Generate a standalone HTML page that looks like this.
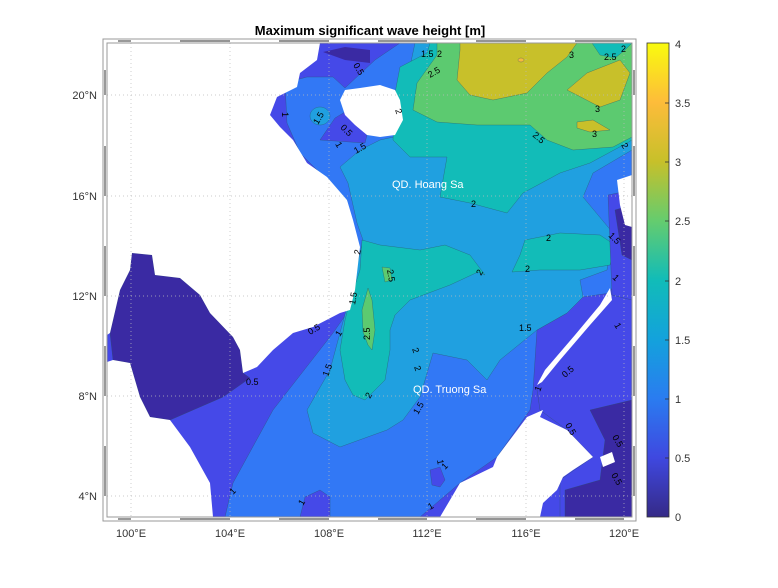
<!DOCTYPE html>
<html><head><meta charset="utf-8"><style>
body{margin:0;background:#fff;width:778px;height:583px;overflow:hidden;font-family:"Liberation Sans",sans-serif}
</style></head><body>
<svg width="778" height="583" viewBox="0 0 778 583" xmlns="http://www.w3.org/2000/svg" font-family="Liberation Sans, sans-serif">
<defs>
<linearGradient id="par" x1="0" y1="1" x2="0" y2="0">
<stop offset="0" stop-color="#352a87"/><stop offset="0.125" stop-color="#3f48e0"/><stop offset="0.25" stop-color="#2a7cf0"/><stop offset="0.375" stop-color="#13a2dc"/><stop offset="0.5" stop-color="#11bcb8"/><stop offset="0.625" stop-color="#65cc6e"/><stop offset="0.75" stop-color="#c7c02a"/><stop offset="0.875" stop-color="#fdbc3a"/><stop offset="1" stop-color="#f9fb0e"/>
</linearGradient>
<clipPath id="cp"><rect x="107" y="43" width="525" height="474"/></clipPath>
</defs>
<text x="370" y="35" text-anchor="middle" font-size="13" font-weight="bold">Maximum significant wave height [m]</text>
<g clip-path="url(#cp)" stroke="#2a5060" stroke-width="0.5" stroke-opacity="0.6">
<rect x="107" y="43" width="525" height="474" fill="#4549e8" stroke="none"/>
<polygon fill="#3278f5" points="285,83 307,77 333,77 345,88 375,60 400,43 632,43 632,300 610,293 583,297 567,313 537,330 533,390 530,410 497,457 460,483 420,517 225,517 233,483 273,410 333,333 347,313 347,200 320,173 300,153 287,123"/>
<polygon fill="#20a0e0" points="340,167 360,150 380,140 403,135 410,110 405,90 415,43 632,43 632,150 593,173 583,197 613,233 607,270 580,280 583,297 567,313 537,330 500,360 487,380 467,360 433,353 420,397 403,420 387,430 340,447 313,433 307,410 330,370 348,303 363,240 357,223 348,183"/>
<polygon fill="#12bcb8" points="430,43 427,53 400,67 395,93 393,140 410,157 447,157 440,197 470,203 507,213 523,193 560,173 590,163 627,143 632,140 632,43"/>
<polygon fill="#12bcb8" points="525,240 560,233 600,235 615,245 610,265 580,270 540,270 512,272 520,255"/>
<polygon fill="#12bcb8" points="362,240 380,245 420,250 445,245 470,255 485,275 478,272 450,285 410,300 395,315 390,330 390,350 385,380 365,400 353,395 345,380 340,350 345,320 350,300 360,270"/>
<polygon fill="#5cca70" points="382,267 390,268 392,280 385,282"/>
<polygon fill="#5cca70" points="368,288 372,300 375,330 372,350 368,345 363,332 362,310"/>
<polygon fill="#5cca70" points="437,43 437,55 417,83 413,110 437,122 477,125 530,125 547,140 573,150 613,147 632,137 632,43"/>
<polygon fill="#12bcb8" points="592,43 600,55 615,58 625,50 632,43"/>
<polygon fill="#c8c02a" points="460,43 460,50 457,80 470,95 493,100 527,93 547,73 567,57 577,43"/>
<polygon fill="#c8c02a" points="567,90 587,73 620,60 630,73 620,100 600,107 573,93"/>
<polygon fill="#c8c02a" points="577,122 593,120 610,130 590,132 577,128"/>
<ellipse cx="521" cy="60" rx="3" ry="2" fill="#f6ba3c"/>
<polygon fill="#4549e8" points="320,140 335,118 345,112 367,135 365,143"/>
<polygon fill="#3a2aa3" stroke="none" points="323,52 345,47 370,50 370,63 345,60"/>
<ellipse cx="320" cy="116" rx="10" ry="9" fill="#20a0e0"/>
<polygon fill="#3a2aa3" points="132,253 152,255 155,275 180,278 200,295 210,313 233,337 240,350 243,373 250,378 223,397 170,420 150,417 140,397 130,363 113,360 110,333 120,290 130,270"/>
<polygon fill="#4549e8" points="540,410 537,390 545,372 575,337 600,307 612,288 632,283 632,517 560,517 560,480 593,457 567,430"/>
<polygon fill="#4549e8" points="608,195 632,190 632,300 612,295"/>
<polygon fill="#3a2aa3" points="590,410 632,400 632,517 565,517 565,490 600,480 605,440"/>
<polygon fill="#3a2aa3" points="615,210 632,205 632,260 622,255"/>
<polygon fill="#4549e8" points="300,517 305,497 320,490 330,497 330,517"/>
<polygon fill="#4549e8" points="430,470 440,467 445,480 440,487 432,485"/>
<g fill="#fff" stroke="none">
<polygon points="107,43 320,43 317,60 300,73 297,87 277,97 270,115 280,127 293,140 307,163 327,177 347,200 353,220 360,247 355,290 350,310 340,313 313,327 293,333 273,350 257,367 243,373 240,350 233,337 210,313 200,295 180,278 155,275 152,255 132,253 130,270 120,290 110,333 107,335"/>
<polygon points="107,362 113,360 130,363 140,397 150,417 170,420 190,447 210,483 213,517 107,517"/>
<polygon points="440,517 460,483 493,467 497,457 527,417 543,410 540,417 567,430 593,457 573,470 563,477 557,490 543,503 540,517"/>
<polygon points="537,385 545,370 575,335 600,305 610,288 612,300 590,325 560,360 542,382"/>
<polygon points="340,100 345,90 360,88 380,85 395,90 400,100 403,120 395,135 380,137 367,135 355,125 345,115"/>
<polygon points="617,180 632,175 632,227 625,225 620,205"/>
<polygon points="600,457 612,452 615,462 603,467"/>
</g>
</g>
<g stroke="#bbb" stroke-width="0.7" stroke-dasharray="1,3">
<line x1="131" y1="43" x2="131" y2="517"/><line x1="230" y1="43" x2="230" y2="517"/><line x1="329" y1="43" x2="329" y2="517"/><line x1="427" y1="43" x2="427" y2="517"/><line x1="526" y1="43" x2="526" y2="517"/><line x1="624" y1="43" x2="624" y2="517"/>
<line x1="107" y1="95" x2="632" y2="95"/><line x1="107" y1="196" x2="632" y2="196"/><line x1="107" y1="296" x2="632" y2="296"/><line x1="107" y1="396" x2="632" y2="396"/><line x1="107" y1="496" x2="632" y2="496"/>
</g>
<g fill="none" stroke="#999" stroke-width="1">
<rect x="103" y="39" width="533" height="482"/>
<rect x="107" y="43" width="525" height="474"/>
</g>
<g stroke="#555" stroke-width="1.2">
<line x1="118" y1="41" x2="131" y2="41"/><line x1="180" y1="41" x2="230" y2="41"/><line x1="279" y1="41" x2="329" y2="41"/><line x1="378" y1="41" x2="427" y2="41"/><line x1="476" y1="41" x2="526" y2="41"/><line x1="575" y1="41" x2="624" y2="41"/>
<line x1="118" y1="519" x2="131" y2="519"/><line x1="180" y1="519" x2="230" y2="519"/><line x1="279" y1="519" x2="329" y2="519"/><line x1="378" y1="519" x2="427" y2="519"/><line x1="476" y1="519" x2="526" y2="519"/><line x1="575" y1="519" x2="624" y2="519"/>
<line x1="105" y1="70" x2="105" y2="95"/><line x1="105" y1="146" x2="105" y2="196"/><line x1="105" y1="246" x2="105" y2="296"/><line x1="105" y1="346" x2="105" y2="396"/><line x1="105" y1="446" x2="105" y2="496"/>
<line x1="634" y1="70" x2="634" y2="95"/><line x1="634" y1="146" x2="634" y2="196"/><line x1="634" y1="246" x2="634" y2="296"/><line x1="634" y1="346" x2="634" y2="396"/><line x1="634" y1="446" x2="634" y2="496"/>
</g>
<text x="392" y="188" fill="#fff" font-size="11">QD. Hoang Sa</text>
<text x="413" y="393" fill="#fff" font-size="11">QD. Truong Sa</text>
<g font-size="9" fill="#000">
<text x="353" y="65" transform="rotate(60 353 65)">0.5</text>
<text x="282" y="112" transform="rotate(90 282 112)">1</text>
<text x="318" y="125" transform="rotate(-60 318 125)">1.5</text>
<text x="340" y="128" transform="rotate(45 340 128)">0.5</text>
<text x="335" y="144" transform="rotate(60 335 144)">1</text>
<text x="356" y="154" transform="rotate(-30 356 154)">1.5</text>
<text x="395" y="110" transform="rotate(70 395 110)">2</text>
<text x="430" y="78" transform="rotate(-30 430 78)">2.5</text>
<text x="421" y="57">1.5</text><text x="437" y="57">2</text>
<text x="569" y="58">3</text><text x="604" y="60">2.5</text><text x="621" y="52">2</text>
<text x="595" y="112">3</text><text x="592" y="137">3</text>
<text x="532" y="136" transform="rotate(40 532 136)">2.5</text>
<text x="621" y="145" transform="rotate(60 621 145)">2</text>
<text x="471" y="207">2</text>
<text x="546" y="241">2</text><text x="525" y="272">2</text>
<text x="481" y="276" transform="rotate(-60 481 276)">2</text>
<text x="608" y="236" transform="rotate(45 608 236)">1.5</text>
<text x="612" y="278" transform="rotate(45 612 278)">1</text>
<text x="387" y="270" transform="rotate(80 387 270)">2.5</text>
<text x="360" y="255" transform="rotate(-80 360 255)">2</text>
<text x="355" y="305" transform="rotate(-80 355 305)">1.5</text>
<text x="370" y="340" transform="rotate(-90 370 340)">2.5</text>
<text x="340" y="337" transform="rotate(-60 340 337)">1</text>
<text x="310" y="335" transform="rotate(-30 310 335)">0.5</text>
<text x="412" y="349" transform="rotate(70 412 349)">2</text>
<text x="414" y="367" transform="rotate(70 414 367)">2</text>
<text x="519" y="331">1.5</text>
<text x="328" y="377" transform="rotate(-70 328 377)">1.5</text>
<text x="246" y="385">0.5</text>
<text x="370" y="399" transform="rotate(-60 370 399)">2</text>
<text x="418" y="415" transform="rotate(-60 418 415)">1.5</text>
<text x="565" y="378" transform="rotate(-40 565 378)">0.5</text>
<text x="540" y="392" transform="rotate(-70 540 392)">1</text>
<text x="565" y="425" transform="rotate(60 565 425)">0.5</text>
<text x="612" y="437" transform="rotate(60 612 437)">0.5</text>
<text x="611" y="475" transform="rotate(60 611 475)">0.5</text>
<text x="614" y="325" transform="rotate(60 614 325)">1</text>
<text x="437" y="460" transform="rotate(80 437 460)">1</text>
<text x="445" y="470" transform="rotate(-45 445 470)">1</text>
<text x="233" y="495" transform="rotate(-45 233 495)">1</text>
<text x="303" y="506" transform="rotate(-60 303 506)">1</text>
<text x="430" y="510" transform="rotate(-30 430 510)">1</text>
</g>
<g font-size="11" fill="#333" text-anchor="middle">
<text x="131" y="537">100°E</text><text x="230" y="537">104°E</text><text x="329" y="537">108°E</text><text x="427" y="537">112°E</text><text x="526" y="537">116°E</text><text x="624" y="537">120°E</text>
</g>
<g font-size="11" fill="#333" text-anchor="end">
<text x="97" y="99">20°N</text><text x="97" y="200">16°N</text><text x="97" y="300">12°N</text><text x="97" y="400">8°N</text><text x="97" y="500">4°N</text>
</g>
<rect x="647" y="43" width="22" height="474" fill="url(#par)" stroke="#333" stroke-width="0.8"/>
<g stroke="#333" stroke-width="0.8">
<line x1="665" y1="458" x2="669" y2="458"/><line x1="665" y1="399" x2="669" y2="399"/><line x1="665" y1="340" x2="669" y2="340"/><line x1="665" y1="281" x2="669" y2="281"/><line x1="665" y1="221" x2="669" y2="221"/><line x1="665" y1="162" x2="669" y2="162"/><line x1="665" y1="103" x2="669" y2="103"/>
</g>
<g font-size="11" fill="#333">
<text x="675" y="521">0</text><text x="675" y="462">0.5</text><text x="675" y="403">1</text><text x="675" y="344">1.5</text><text x="675" y="285">2</text><text x="675" y="225">2.5</text><text x="675" y="166">3</text><text x="675" y="107">3.5</text><text x="675" y="48">4</text>
</g>
</svg>
</body></html>
